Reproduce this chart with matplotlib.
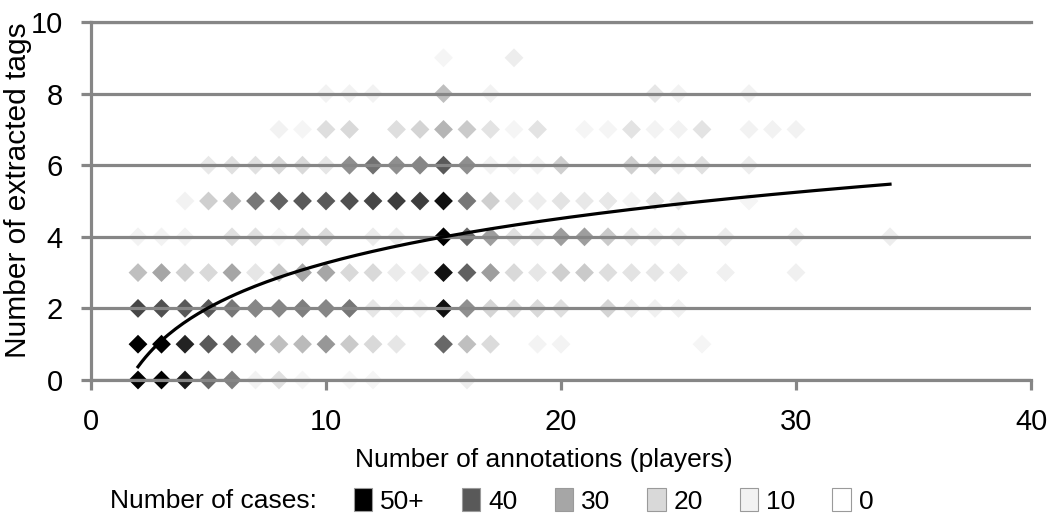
import numpy as np
import matplotlib
matplotlib.use("Agg")
import matplotlib.pyplot as plt
from matplotlib.colors import LinearSegmentedColormap
from matplotlib.patches import Patch

plt.rcParams['font.family'] = ['Liberation Sans', 'DejaVu Sans']

# x values (number of annotations) for every column of the count rows
annotations = list(range(2, 35))
# number of cases per (annotations, extracted tags) cell; one list per tag count
cases_y0 = [55, 52, 47, 38, 35, 10, 17, 8, 0, 8, 8, 0, 0, 0, 12, 0, 0, 0, 0, 0, 0, 0, 0, 0, 0, 0, 0, 0, 0, 0, 0, 0, 0]
cases_y1 = [55, 50, 46, 40, 37, 33, 25, 26, 32, 23, 20, 15, 0, 38, 25, 19, 0, 9, 9, 0, 0, 0, 0, 0, 8, 0, 0, 0, 0, 0, 0, 0, 0]
cases_y2 = [42, 41, 40, 40, 36, 34, 34, 35, 34, 36, 15, 11, 11, 48, 33, 21, 18, 20, 18, 0, 21, 13, 11, 11, 0, 0, 0, 0, 0, 0, 0, 0, 0]
cases_y3 = [25, 30, 22, 20, 30, 15, 24, 30, 30, 20, 20, 13, 13, 48, 39, 31, 20, 15, 22, 23, 18, 16, 15, 13, 0, 11, 0, 0, 11, 0, 0, 0, 0]
cases_y4 = [10, 10, 10, 0, 17, 17, 8, 20, 20, 0, 13, 13, 0, 52, 38, 31, 17, 15, 31, 31, 23, 15, 12, 13, 0, 13, 0, 0, 13, 0, 0, 0, 12]
cases_y5 = [0, 0, 10, 22, 27, 36, 39, 40, 40, 41, 42, 43, 43, 48, 36, 22, 15, 12, 16, 14, 14, 9, 16, 15, 0, 0, 8, 0, 0, 0, 0, 0, 0]
cases_y6 = [0, 0, 0, 14, 17, 17, 20, 20, 15, 33, 37, 33, 34, 40, 33, 10, 10, 10, 22, 0, 0, 22, 20, 12, 17, 0, 12, 0, 0, 0, 0, 0, 0]
cases_y7 = [0, 0, 0, 0, 0, 0, 10, 8, 18, 20, 0, 18, 21, 27, 23, 16, 8, 16, 0, 8, 8, 16, 9, 10, 16, 0, 10, 10, 10, 0, 0, 0, 0]
cases_y8 = [0, 0, 0, 0, 0, 0, 0, 0, 10, 10, 10, 0, 0, 25, 0, 10, 0, 0, 0, 0, 0, 0, 15, 10, 0, 0, 10, 0, 0, 0, 0, 0, 0]
cases_y9 = [0, 0, 0, 0, 0, 0, 0, 0, 0, 0, 0, 0, 0, 8, 0, 0, 12, 0, 0, 0, 0, 0, 0, 0, 0, 0, 0, 0, 0, 0, 0, 0, 0]
case_rows = [cases_y0, cases_y1, cases_y2, cases_y3, cases_y4,
             cases_y5, cases_y6, cases_y7, cases_y8, cases_y9]

# logarithmic trend line y = a*ln(x) + b
trend_a = 1.80
trend_b = -0.878
trend_x_range = (2, 34)

legend_labels = ['50+', '40', '30', '20', '10', '0']
legend_values = [50, 40, 30, 20, 10, 0]
x_ticks = [0, 10, 20, 30, 40]
y_ticks = [0, 2, 4, 6, 8, 10]

# colour scale taken from the legend
level_vals = [0, 10, 20, 30, 40, 50]
level_cols = ['#ffffff', '#f2f2f2', '#d9d9d9', '#a6a6a6', '#595959', '#000000']
cmap = LinearSegmentedColormap.from_list(
    'cases', [(v / 50.0, c) for v, c in zip(level_vals, level_cols)])
cmap.set_over('#000000')

xs, ys, cs = [], [], []
for tags, row in enumerate(case_rows):
    for xa, n in zip(annotations, row):
        if n > 0:
            xs.append(xa)
            ys.append(tags)
            cs.append(n)

fig = plt.figure(figsize=(10.56, 5.18), dpi=100)
ax = fig.add_axes([91 / 1056, 1 - 380 / 518, 940 / 1056, 358 / 518])

grid_col = '#868686'
ax.scatter(xs, ys, c=cs, cmap=cmap, vmin=0, vmax=50, marker='D', s=92,
           linewidths=0, zorder=1, clip_on=False)

tx = np.linspace(trend_x_range[0], trend_x_range[1], 200)
ax.plot(tx, trend_a * np.log(tx) + trend_b, color='black', lw=2.3, zorder=5)

ax.set_xlim(0, 40)
ax.set_ylim(0, 10)
ax.set_xticks(x_ticks)
ax.set_yticks(y_ticks)
ax.yaxis.grid(True, color=grid_col, lw=2.3)
ax.set_axisbelow(False)
for s in ['left', 'bottom', 'top']:
    ax.spines[s].set_color(grid_col)
    ax.spines[s].set_linewidth(2.3)
ax.spines['right'].set_visible(False)
ax.tick_params(axis='both', direction='out', length=7.5, width=2.3,
               color=grid_col, labelsize=21, labelcolor='black')
ax.tick_params(axis='y', pad=13)
ax.tick_params(axis='x', pad=13)

fig.text(18 / 1056, 1 - 190 / 518, 'Number of extracted tags', rotation=90,
         ha='center', va='center', fontsize=21.5)
fig.text(544 / 1056, 1 - 460 / 518, 'Number of annotations (players)',
         ha='center', va='center', fontsize=19)

fig.text(110 / 1056, 1 - 501 / 518, 'Number of cases:', ha='left',
         va='center', fontsize=19)
handles = [Patch(facecolor=cmap(min(v, 50) / 50.0), edgecolor='#9a9a9a', lw=0.8)
           for v in legend_values]
fig.legend(handles, legend_labels, loc='center left',
           bbox_to_anchor=(354 / 1056, 1 - 501 / 518), ncol=6, frameon=False,
           fontsize=19, handlelength=0.7, handleheight=0.95, handletextpad=0.3,
           columnspacing=1.4, borderpad=0, borderaxespad=0)

fig.savefig('out.png', dpi=100, facecolor='white')
